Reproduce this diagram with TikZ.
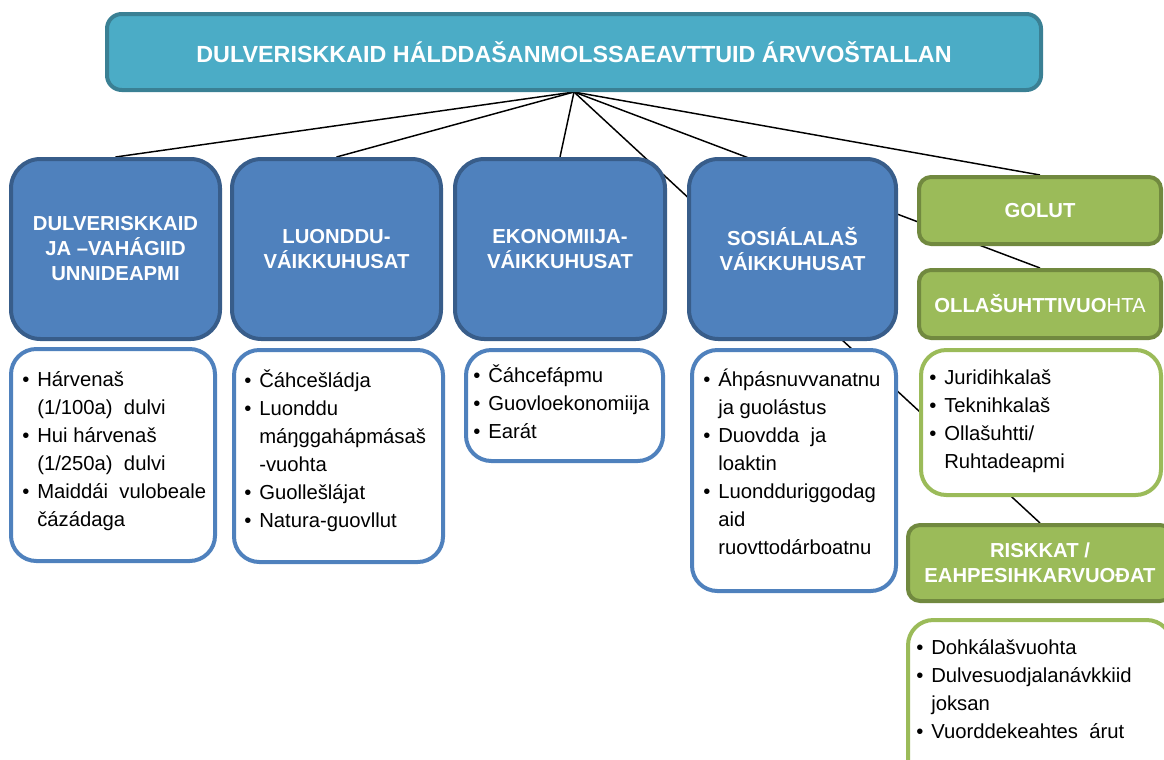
\documentclass[tikz,border=0pt]{standalone}
\usepackage{fontspec}
\setmainfont{Liberation Sans}
\usetikzlibrary{backgrounds}
\definecolor{topfill}{HTML}{4BACC6}
\definecolor{topline}{HTML}{3A8094}
\definecolor{bluefill}{HTML}{4F81BD}
\definecolor{blueline}{HTML}{385D8A}
\definecolor{greenfill}{HTML}{9BBB59}
\definecolor{greenline}{HTML}{71893F}
\newcommand\bi{\strut\makebox[11.25pt][l]{\textbullet}}
\newcommand\ci{\strut\hspace*{11.25pt}}
\begin{document}
\begin{tikzpicture}[x=0.75pt,y=-0.75pt,
  topbox/.style={draw=topline,fill=topfill,line width=3pt,rounded corners=11pt,
    text=white,font=\bfseries\fontsize{17.5pt}{21pt}\selectfont,inner sep=0pt},
  bluebox/.style={draw=blueline,fill=bluefill,line width=3pt,rounded corners=22pt,
    text=white,align=center,font=\bfseries\fontsize{15.2pt}{18.75pt}\selectfont,inner sep=0pt},
  greenbox/.style={draw=greenline,fill=greenfill,line width=3pt,rounded corners=9pt,
    text=white,align=center,font=\bfseries\fontsize{15.2pt}{18.75pt}\selectfont,inner sep=0pt},
  bluesub/.style={draw=bluefill,fill=white,line width=3pt,rounded corners=19pt,inner sep=0pt},
  greensub/.style={draw=greenfill,fill=white,line width=3pt,rounded corners=19pt,inner sep=0pt},
  bodytext/.style={anchor=north west,align=left,inner sep=0pt,
    font=\fontsize{15.2pt}{21pt}\selectfont},
  conn/.style={draw=black,line width=1.1pt}]
\useasboundingbox (0,0) rectangle (1164,760);

% header
\node[topbox,minimum width=700.5pt,minimum height=57pt] (top) at (574,52)
  {DULVERISKKAID HÁLDDAŠANMOLSSAEAVTTUID ÁRVVOŠTALLAN};

% blue category boxes
\node[bluebox,minimum width=156.75pt,minimum height=135pt] (b1) at (115.5,249)
  {DULVERISKKAID\\JA –VAHÁGIID\\UNNIDEAPMI};
\node[bluebox,minimum width=156.75pt,minimum height=135pt] (b2) at (336.5,249)
  {LUONDDU-\\VÁIKKUHUSAT};
\node[bluebox,minimum width=157.5pt,minimum height=135pt] (b3) at (560,249)
  {EKONOMIIJA-\\VÁIKKUHUSAT};
\node[bluebox,minimum width=155.25pt,minimum height=135pt] (b4) at (792.5,249)
  {SOSIÁLALAŠ\\VÁIKKUHUSAT};

% green category boxes
\node[greenbox,minimum width=181.5pt,minimum height=50.25pt] (golut) at (1040,210.5) {GOLUT};
\node[greenbox,minimum width=181.5pt,minimum height=51pt] (olla) at (1040,304)
  {OLLAŠUHTTIVUO{\mdseries HTA}};
\node[greenbox,minimum width=198pt,minimum height=57pt] (risk) at (1040,563)
  {RISKKAT /\\EAHPESIHKARVUOĐAT};

% sub boxes
\node[bluesub,minimum width=153pt,minimum height=159pt] (s1) at (113,455) {};
\node[bluesub,minimum width=156.75pt,minimum height=159pt] (s2) at (338.5,456) {};
\node[bluesub,minimum width=147.75pt,minimum height=83.25pt] (s3) at (564.5,405.5) {};
\node[bluesub,minimum width=153pt,minimum height=180.75pt] (s4) at (794,470.5) {};
\node[greensub,minimum width=180pt,minimum height=108.75pt] (s5) at (1041,422.5) {};
\node[greensub,minimum width=198pt,minimum height=135pt] (s6) at (1040,710) {};

% connectors
\begin{scope}[on background layer]
\draw[conn] (top.south) -- (b1.north);
\draw[conn] (top.south) -- (b2.north);
\draw[conn] (top.south) -- (b3.north);
\draw[conn] (top.south) -- (risk.north);
\draw[conn] (top.south) -- (olla.north);
\draw[conn] (top.south) -- (golut.north);
\end{scope}

% texts of sub boxes
\node[bodytext] (t1) at (22,366.5)
  {\bi Hárvenaš\\ \ci (1/100a)\ \ dulvi\\ \bi Hui hárvenaš\\ \ci (1/250a)\ \ dulvi\\ \bi Maiddái\ \ vulobeale\\ \ci čázádaga};
\node[bodytext] (t2) at (244,367.4)
  {\bi Čáhcešládja\\ \bi Luonddu\\ \ci máŋggahápmásaš\\ \ci -vuohta\\ \bi Guollešlájat\\ \bi Natura-guovllut};
\node[bodytext] (t3) at (473,362.4)
  {\bi Čáhcefápmu\\ \bi Guovloekonomiija\\ \bi Earát};
\node[bodytext] (t4) at (703,366.4)
  {\bi Áhpásnuvvanatnu\\ \ci ja guolástus\\ \bi Duovdda\ \ ja\\ \ci loaktin\\ \bi Luondduriggodag\\ \ci aid\\ \ci ruovttodárboatnu};
\node[bodytext] (t5) at (929,364.4)
  {\bi Juridihkalaš\\ \bi Teknihkalaš\\ \bi Ollašuhtti/\\ \ci Ruhtadeapmi};
\node[bodytext] (t6) at (916,634.4)
  {\bi Dohkálašvuohta\\ \bi Dulvesuodjalanávkkiid\\ \ci joksan\\ \bi Vuorddekeahtes\ \ árut};
\end{tikzpicture}
\end{document}
